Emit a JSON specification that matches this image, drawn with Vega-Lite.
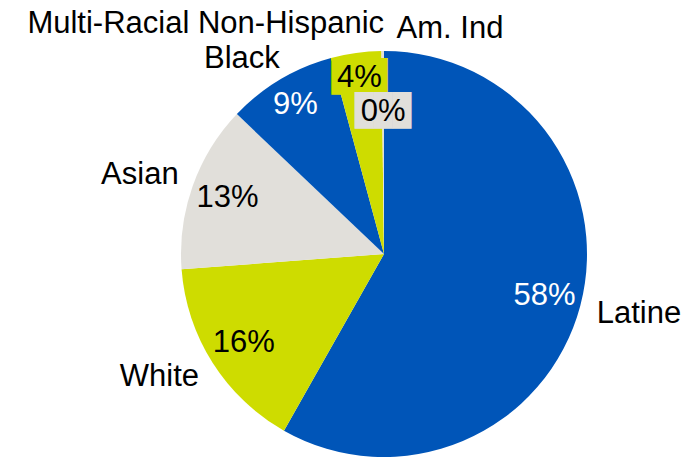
{
  "$schema": "https://vega.github.io/schema/vega-lite/v6.json",
  "width": 610,
  "height": 406,
  "autosize": "none",
  "padding": {"left": 79, "top": 51, "right": 0, "bottom": 0},
  "background": "white",
  "config": {"view": {"stroke": null}, "text": {"font": "Liberation Sans", "fontSize": 31}},
  "data": {"values": [
    {"cat": "Latine", "v": 0.582, "idx": 1},
    {"cat": "White", "v": 0.156, "idx": 2},
    {"cat": "Asian", "v": 0.133, "idx": 3},
    {"cat": "Black", "v": 0.087, "idx": 4},
    {"cat": "Multi-Racial Non-Hispanic", "v": 0.040, "idx": 5},
    {"cat": "Am. Ind", "v": 0.002, "idx": 6}
  ]},
  "encoding": {
    "theta": {"field": "v", "type": "quantitative", "stack": true},
    "order": {"field": "idx", "type": "quantitative"},
    "detail": {"field": "cat", "type": "nominal"}
  },
  "layer": [
    {
      "mark": {"type": "arc", "outerRadius": 203},
      "encoding": {
        "color": {"field": "cat", "type": "nominal", "legend": null,
          "scale": {"domain": ["Latine", "White", "Asian", "Black", "Multi-Racial Non-Hispanic", "Am. Ind"],
                    "range": ["#0055B8", "#CEDC00", "#E1DFDA", "#0055B8", "#CEDC00", "#E1DFDA"]}}
      }
    },
    {
      "mark": {"type": "text", "radius": 166, "align": "center", "baseline": "middle"},
      "encoding": {
        "text": {"condition": {"test": "datum.idx <= 3", "field": "v", "type": "quantitative", "format": ".0%"}, "value": ""},
        "color": {"condition": {"test": "datum.idx == 1", "value": "white"}, "value": "black"}
      }
    },
    {
      "mark": {"type": "text", "radius": 173, "align": "center", "baseline": "middle", "color": "white"},
      "encoding": {
        "text": {"condition": {"test": "datum.idx == 4", "field": "v", "type": "quantitative", "format": ".0%"}, "value": ""}
      }
    },
    {
      "mark": {"type": "text", "radius": 178, "align": "center", "baseline": "middle", "font": "DejaVu Sans Mono", "fontSize": 31, "color": "#CEDC00"},
      "encoding": {
        "text": {"condition": {"test": "datum.idx == 5", "value": "███"}, "value": ""}
      }
    },
    {
      "mark": {"type": "text", "radius": 178, "align": "center", "baseline": "middle", "color": "black"},
      "encoding": {
        "text": {"condition": {"test": "datum.idx == 5", "field": "v", "type": "quantitative", "format": ".0%"}, "value": ""}
      }
    },
    {
      "mark": {"type": "text", "radius": 142, "align": "center", "baseline": "middle", "font": "DejaVu Sans Mono", "fontSize": 31, "color": "#E1DFDA"},
      "encoding": {
        "text": {"condition": {"test": "datum.idx == 6", "value": "███"}, "value": ""}
      }
    },
    {
      "mark": {"type": "text", "radius": 142, "align": "center", "baseline": "middle", "color": "black"},
      "encoding": {
        "text": {"condition": {"test": "datum.idx == 6", "field": "v", "type": "quantitative", "format": ".0%"}, "value": ""}
      }
    },
    {
      "mark": {"type": "text", "radius": 220, "align": "left", "baseline": "middle", "dy": 4, "color": "black"},
      "encoding": {"text": {"condition": {"test": "datum.idx == 1", "field": "cat"}, "value": ""}}
    },
    {
      "mark": {"type": "text", "radius": 219, "align": "right", "baseline": "middle", "dy": 6, "color": "black"},
      "encoding": {"text": {"condition": {"test": "datum.idx == 2", "field": "cat"}, "value": ""}}
    },
    {
      "mark": {"type": "text", "radius": 218, "align": "right", "baseline": "middle", "dy": -6, "color": "black"},
      "encoding": {"text": {"condition": {"test": "datum.idx == 3", "field": "cat"}, "value": ""}}
    },
    {
      "mark": {"type": "text", "radius": 225, "align": "right", "baseline": "middle", "dx": 11, "dy": -2, "color": "black"},
      "encoding": {"text": {"condition": {"test": "datum.idx == 4", "field": "cat"}, "value": ""}}
    },
    {
      "mark": {"type": "text", "radius": 232, "align": "right", "baseline": "middle", "dx": 32, "color": "black"},
      "encoding": {"text": {"condition": {"test": "datum.idx == 5", "field": "cat"}, "value": ""}}
    },
    {
      "mark": {"type": "text", "radius": 225, "align": "left", "baseline": "middle", "dx": 14, "color": "black"},
      "encoding": {"text": {"condition": {"test": "datum.idx == 6", "field": "cat"}, "value": ""}}
    }
  ]
}
